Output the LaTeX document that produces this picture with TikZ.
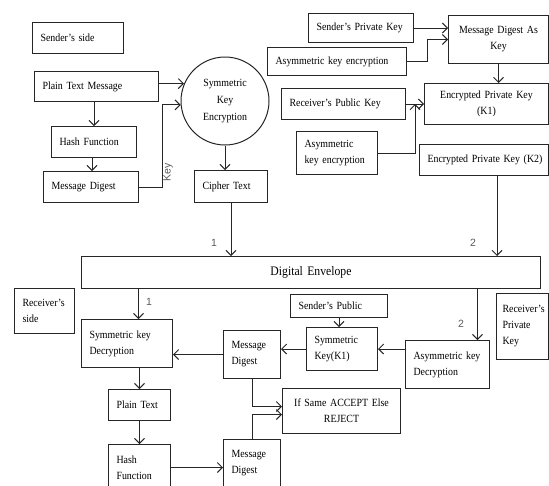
\documentclass[tikz,border=0pt]{standalone}
\usepackage{fontspec}
\setmainfont{Liberation Serif}[FakeStretch=0.9]
\newfontfamily\labfont{Liberation Sans}
\usetikzlibrary{arrows.meta}
\definecolor{linec}{HTML}{262626}
\definecolor{labgray}{HTML}{5A5A5A}
\tikzset{
  x=1pt, y=-1pt,
  box/.style={draw=linec, line width=1pt, rectangle, anchor=north west,
    inner xsep=8pt, inner ysep=0pt, align=left,
    font=\fontsize{11}{16}\selectfont},
  cbox/.style={box, align=center},
  arr/.style={draw=linec, line width=1pt,
    -{Straight Barb[length=5pt,width=10pt,line width=1pt]}},
  lab/.style={text=labgray, font=\labfont\fontsize{10.5}{12}\selectfont, inner sep=0pt}
}
\begin{document}
\begin{tikzpicture}
\useasboundingbox (0,0) rectangle (549,485);

% ---------- sender's side ----------
\node[box, text width=75pt, minimum height=31pt] (sside) at (32,22) {Sender's side};
\node[box, text width=108pt, minimum height=30pt] (ptm) at (34,71) {Plain Text Message};
\node[box, text width=69pt, minimum height=31pt] (hash) at (51,126) {Hash Function};
\node[box, text width=79pt, minimum height=31pt] (md) at (43,171) {Message Digest};
\node[draw=linec, line width=1pt, circle, minimum size=88pt, inner sep=0pt, align=center,
  font=\fontsize{11}{17}\selectfont] (enc) at (225,101) {Symmetric\\Key\\Encryption};
\node[box, text width=57pt, minimum height=32pt] (cipher) at (194,170) {Cipher Text};

\node[box, text width=89pt, minimum height=29pt] (spk) at (308,13) {Sender's Private Key};
\node[box, text width=123pt, minimum height=28pt] (ake1) at (267,47) {Asymmetric key encryption};
\node[cbox, text width=84pt, minimum height=48pt] (mdak) at (448,15) {Message Digest As\\Key};
\node[box, text width=108pt, minimum height=31pt] (rpk) at (281,88) {Receiver's Public Key};
\node[cbox, text width=108pt, minimum height=41pt] (epk1) at (424,83) {Encrypted Private Key\\(K1)};
\node[box, text width=65pt, minimum height=43pt] (ake2) at (296,131) {Asymmetric\\key encryption};
\node[box, text width=113pt, minimum height=31pt] (epk2) at (419,144) {\mbox{Encrypted Private Key (K2)}};

% ---------- envelope ----------
\node[cbox, text width=443pt, minimum height=32pt, font=\fontsize{13}{16}\selectfont] (de) at (81,256) {Digital Envelope};

% ---------- receiver's side ----------
\node[box, text width=44pt, minimum height=45pt] (rside) at (14,288) {Receiver's\\side};
\node[box, text width=75pt, minimum height=48pt] (skd) at (81,319) {Symmetric key\\Decryption};
\node[box, text width=41pt, minimum height=48pt] (md2) at (223,330) {Message\\Digest};
\node[box, text width=46pt, minimum height=31pt] (pt) at (108,389) {Plain Text};
\node[box, text width=46pt, minimum height=46pt] (hf) at (108,444) {Hash\\Function};
\node[box, text width=41pt, minimum height=48pt] (md3) at (223,439) {Message\\Digest};
\node[box, text width=81pt, minimum height=23pt] (spub) at (290,294) {Sender's Public};
\node[box, text width=55pt, minimum height=43pt] (sk1) at (306,327) {Symmetric\\Key(K1)};
\node[box, text width=68pt, minimum height=48pt] (akd) at (405,340) {\mbox{Asymmetric key}\\Decryption};
\node[box, inner xsep=6pt, text width=40pt, minimum height=66pt] (rpriv) at (496,293) {Receiver's\\Private\\Key};
\node[cbox, text width=102pt, minimum height=45pt] (ifs) at (282,388) {If Same ACCEPT Else\\REJECT};

% ---------- sender's connectors ----------
\draw[arr] (enc.157 -| ptm.east) -- (enc.157);
\draw[arr] (md.east) -- ++(23,0) |- (enc.185);
\node[lab, rotate=90] (keylab) at (168,172) {Key};
\draw[arr] (hash.north |- ptm.south) -- (hash.north);
\draw[arr] (hash.south -| 92,0) -- (md.north -| 92,0);
\draw[arr] (enc.south) -- (enc.south |- cipher.north);
\draw[arr] (cipher.south) -- (cipher.south |- de.north);
\node[lab] (one) at (214,243) {1};

\draw[arr] (spk.east) -- (spk.east -| mdak.west);
\draw[arr] (ake1.east) -- ++(20,0) |- (mdak.west);
\draw[arr] (mdak.south) -- (mdak.south |- epk1.north);
\draw[arr] (rpk.east) -- (rpk.east -| epk1.west);
\draw[arr] (ake2.east) -| ([xshift=9pt]rpk.east);
\draw[arr] ([xshift=13pt]epk2.south) -- ([xshift=13pt]epk2.south |- de.north);
\node[lab] (two) at (473,243) {2};

% ---------- receiver's connectors ----------
\draw[arr] ([xshift=11.5pt]skd.north |- de.south) -- ([xshift=11.5pt]skd.north);
\node[lab] (oneb) at (149,302) {1};
\draw[arr] ([xshift=30pt]akd.north |- de.south) -- ([xshift=30pt]akd.north);
\node[lab] (twob) at (461,324) {2};
\draw[arr] (spub.south) -- (spub.south |- sk1.north);
\draw[arr] (sk1.east -| akd.west) -- (sk1.east);
\draw[arr] (sk1.west) -- (sk1.west -| md2.east);
\draw[arr] (md2.west) -- (md2.west -| skd.east);
\draw[arr] (pt.north |- skd.south) -- (pt.north);
\draw[arr] (pt.south) -- (hf.north);
\draw[arr] (hf.east) -- (hf.east -| md3.west);
\draw[arr] (md2.south) |- ([yshift=4.5pt]ifs.west);
\draw[arr] (md3.north) |- ([yshift=-3.5pt]ifs.west);
\end{tikzpicture}
\end{document}
